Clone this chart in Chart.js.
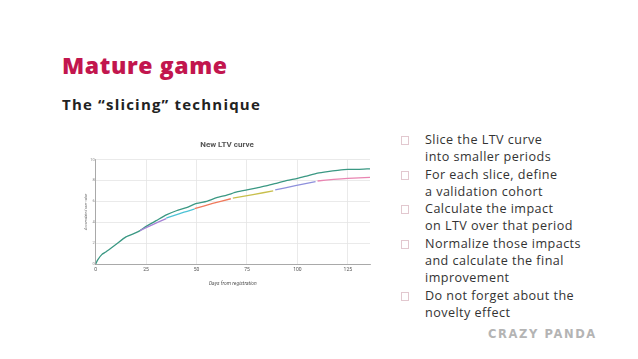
<!DOCTYPE html>
<html>
<head>
<meta charset="utf-8">
<script src="https://cdn.jsdelivr.net/npm/chart.js@4.4.0/dist/chart.umd.min.js"></script>
<style>
  body { margin: 0; width: 638px; height: 359px; background: #fff; position: relative; overflow: hidden; font-family: "Open Sans", sans-serif; }
  h1 { position: absolute; left: 62px; top: 49px; margin: 0; font-size: 23px; font-weight: 800; color: #c2164e; letter-spacing: 0.6px; }
  h2 { position: absolute; left: 62px; top: 94px; margin: 0; font-size: 15px; font-weight: 700; color: #222; letter-spacing: 1.2px; }
  #wrap { position: absolute; left: 84px; top: 136px; width: 292px; height: 160px; }
  ul { position: absolute; left: 397px; top: 131px; margin: 0; padding: 0; list-style: none; font-size: 12.6px; line-height: 17.3px; color: #333; letter-spacing: 0.45px; }
  li { position: relative; padding-left: 28px; }
  li::before { content: ""; position: absolute; left: 4px; top: 5px; width: 6px; height: 7px; border: 1px solid #e2c8cf; }
  .logo { position: absolute; left: 488px; top: 327px; font-size: 11.5px; font-weight: 800; letter-spacing: 1.6px; color: #b4b4b4; font-family: "DejaVu Sans", sans-serif; }
</style>
</head>
<body>
<h1>Mature game</h1>
<h2>The “slicing” technique</h2>
<div id="wrap"><canvas id="myChart"></canvas></div>
<ul>
  <li>Slice the LTV curve<br>into smaller periods</li>
  <li>For each slice, define<br>a validation cohort</li>
  <li>Calculate the impact<br>on LTV over that period</li>
  <li>Normalize those impacts<br>and calculate the final<br>improvement</li>
  <li>Do not forget about the<br>novelty effect</li>
</ul>
<div class="logo">CRAZY PANDA</div>
<script>
// main LTV curve
const days = [0, 1, 3, 5, 10, 15, 20, 22, 25, 30, 35, 40, 45, 50, 55, 60, 65, 70, 75, 80, 85, 90, 95, 100, 105, 110, 115, 120, 125, 130, 136];
const ltv = [0, 0.4, 0.9, 1.15, 1.87, 2.6, 3.0, 3.2, 3.6, 4.15, 4.7, 5.1, 5.4, 5.8, 6.0, 6.35, 6.6, 6.9, 7.1, 7.3, 7.5, 7.75, 8.0, 8.2, 8.45, 8.7, 8.85, 8.97, 9.06, 9.06, 9.12];

// validation slices
const slice1Days = [22, 28, 35];
const slice1 = [3.2, 3.75, 4.35];
const slice2Days = [35, 42, 49];
const slice2 = [4.4, 4.85, 5.25];
const slice3Days = [49, 58, 67];
const slice3 = [5.3, 5.8, 6.25];
const slice4Days = [68, 78, 88];
const slice4 = [6.3, 6.65, 7.0];
const slice5Days = [89, 99, 109];
const slice5 = [7.1, 7.5, 7.9];
const slice6Days = [110, 118, 125, 136];
const slice6 = [7.95, 8.1, 8.2, 8.3];

function pts(xs, ys) { return xs.map((x, i) => ({ x: x, y: ys[i] })); }
function line(data, color) {
  return { data: data, borderColor: color, borderWidth: 1.3, pointRadius: 0, tension: 0.2, fill: false };
}

const ctx = document.getElementById('myChart').getContext('2d');
var graphData = {
    type: 'line',
    data: {
        datasets: [
            line(pts(slice1Days, slice1), '#a583d6'),
            line(pts(slice2Days, slice2), '#4ec3d6'),
            line(pts(slice3Days, slice3), '#f07a5c'),
            line(pts(slice4Days, slice4), '#c8bf4c'),
            line(pts(slice5Days, slice5), '#8e90dc'),
            line(pts(slice6Days, slice6), '#e985b2'),
            line(pts(days, ltv), '#3a9883')
        ]
    },
    options: {
        responsive: true,
        maintainAspectRatio: false,
        animation: false,
        layout: { padding: { left: 0, right: 6, top: 0, bottom: 5 } },
        plugins: {
            legend: { display: false },
            tooltip: { enabled: false },
            title: {
                display: true,
                text: 'New LTV curve',
                color: '#555',
                font: { family: 'Roboto', size: 8, weight: 'bold' },
                padding: { top: 4, bottom: 10 }
            }
        },
        scales: {
            x: {
                type: 'linear',
                min: 0,
                max: 136,
                afterBuildTicks: function (scale) {
                    scale.ticks = scale.ticks.filter(t => t.value % 25 === 0);
                },
                ticks: { stepSize: 25, color: '#555', font: { family: 'Roboto', size: 5 }, padding: 3, maxRotation: 0 },
                grid: { color: '#e4e4e4', lineWidth: 0.8, drawTicks: false },
                border: { color: '#999', width: 0.8 },
                title: { display: true, text: 'Days from registration', color: '#555', font: { family: 'Roboto', size: 5, style: 'italic' }, padding: { top: 5 } }
            },
            y: {
                min: 0,
                max: 10,
                ticks: { stepSize: 2, color: '#888', font: { family: 'Roboto', size: 4 }, padding: 1 },
                grid: { color: '#e4e4e4', lineWidth: 0.8, drawTicks: false },
                border: { color: '#999', width: 0.8 },
                title: { display: true, text: 'Accumulated user value', color: '#666', font: { family: 'Roboto', size: 3.5, style: 'italic' }, padding: { top: 0, bottom: 1 } }
            }
        }
    }
}
const myChart = new Chart(ctx, graphData);
</script>
</body>
</html>
